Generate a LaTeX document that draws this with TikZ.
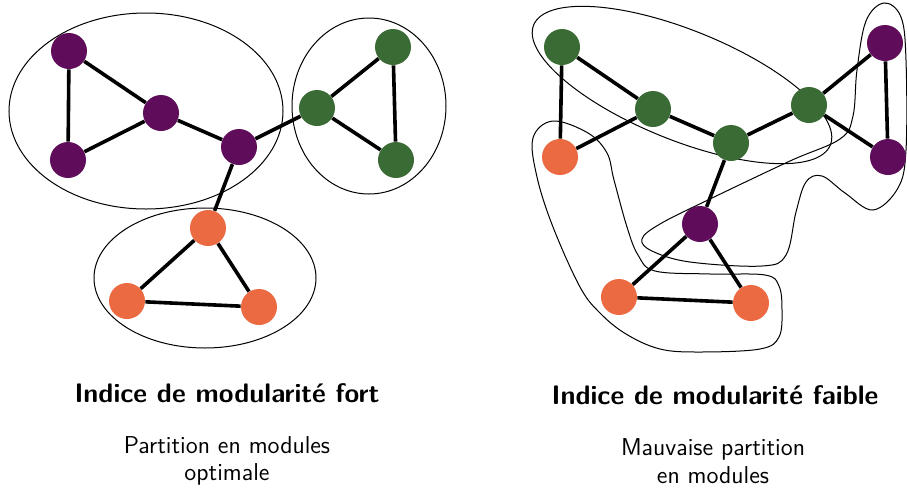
\documentclass[tikz,border=0pt]{standalone}
\usepackage{fontspec}
\usetikzlibrary{positioning}
\definecolor{modpurple}{HTML}{5F0D5A}
\definecolor{modgreen}{HTML}{3A6B35}
\definecolor{modorange}{HTML}{EC6A42}
\tikzset{
  vertex/.style={circle,inner sep=0pt,minimum size=18pt},
  link/.style={line width=1.8pt},
  module/.style={line width=0.5pt},
  title/.style={font=\sffamily\bfseries\fontsize{13.4}{16}\selectfont},
  caption/.style={font=\sffamily\fontsize{12.2}{13.8}\selectfont,align=center},
}

\begin{document}
\begin{tikzpicture}[x=0.5pt,y=-0.5pt]
\useasboundingbox (0,0) rectangle (907,488);
% modules, bonne partition
\draw[module] (146,111) ellipse [x radius=137, y radius=98];
\draw[module] (369,106) ellipse [x radius=77, y radius=88];
\draw[module] (205,278) ellipse [x radius=111, y radius=70];
% modules, mauvaise partition
\draw[module,rotate around={-22:(682,85)}] (682,85) ellipse [x radius=160, y radius=55];
\draw[module] plot[smooth cycle,tension=0.6] coordinates {(884,3) (901,17) (906,60) (906,150) (898,188) (873,210) (845,193) (822,176) (806,182) (796,212) (786,255) (762,266) (690,262) (652,251) (642,239) (660,224) (710,199) (790,161) (840,139) (853,116) (857,70) (866,21)};
\draw[module] plot[smooth cycle,tension=0.6] coordinates {(553,121) (588,133) (607,153) (614,180) (627,227) (638,255) (655,271) (710,274) (765,275) (779,286) (782,310) (779,337) (760,349) (700,352) (660,349) (626,334) (600,313) (580,287) (553,227) (537,177) (533,138)};
% graphe de gauche
\node[vertex,fill=modpurple] (a0) at (69,51) {};
\node[vertex,fill=modpurple] (a1) at (68,160) {};
\node[vertex,fill=modpurple] (a2) at (161,113) {};
\node[vertex,fill=modpurple] (a3) at (239,147) {};
\node[vertex,fill=modgreen] (a4) at (317,108) {};
\node[vertex,fill=modgreen] (a5) at (393,47) {};
\node[vertex,fill=modgreen] (a6) at (396,160) {};
\node[vertex,fill=modorange] (a7) at (208,228) {};
\node[vertex,fill=modorange] (a8) at (127,301) {};
\node[vertex,fill=modorange] (a9) at (259,307) {};
\draw[link](a0)--(a1);
\draw[link](a0)--(a2);
\draw[link](a1)--(a2);
\draw[link](a2)--(a3);
\draw[link](a3)--(a4);
\draw[link](a4)--(a5);
\draw[link](a4)--(a6);
\draw[link](a5)--(a6);
\draw[link](a3)--(a7);
\draw[link](a7)--(a8);
\draw[link](a7)--(a9);
\draw[link](a8)--(a9);
% graphe de droite
\node[vertex,fill=modgreen] (b0) at (562,47) {};
\node[vertex,fill=modorange] (b1) at (560,157) {};
\node[vertex,fill=modgreen] (b2) at (653,109) {};
\node[vertex,fill=modgreen] (b3) at (731,143) {};
\node[vertex,fill=modgreen] (b4) at (809,105) {};
\node[vertex,fill=modpurple] (b5) at (885,43) {};
\node[vertex,fill=modpurple] (b6) at (888,157) {};
\node[vertex,fill=modpurple] (b7) at (700,224) {};
\node[vertex,fill=modorange] (b8) at (619,297) {};
\node[vertex,fill=modorange] (b9) at (751,303) {};
\draw[link](b0)--(b1);
\draw[link](b0)--(b2);
\draw[link](b2)--(b1);
\draw[link](b2)--(b3);
\draw[link](b3)--(b4);
\draw[link](b4)--(b5);
\draw[link](b4)--(b6);
\draw[link](b5)--(b6);
\draw[link](b3)--(b7);
\draw[link](b7)--(b8);
\draw[link](b7)--(b9);
\draw[link](b8)--(b9);
% textes
\node[title] (t0) at (227,393) {Indice de modularité fort};
\node[caption] (c0) at (227,461) {Partition en modules\\optimale};
\node[title] (t1) at (715,395) {Indice de modularité faible};
\node[caption] (c1) at (713,461) {Mauvaise partition\\en modules};
\end{tikzpicture}
\end{document}
